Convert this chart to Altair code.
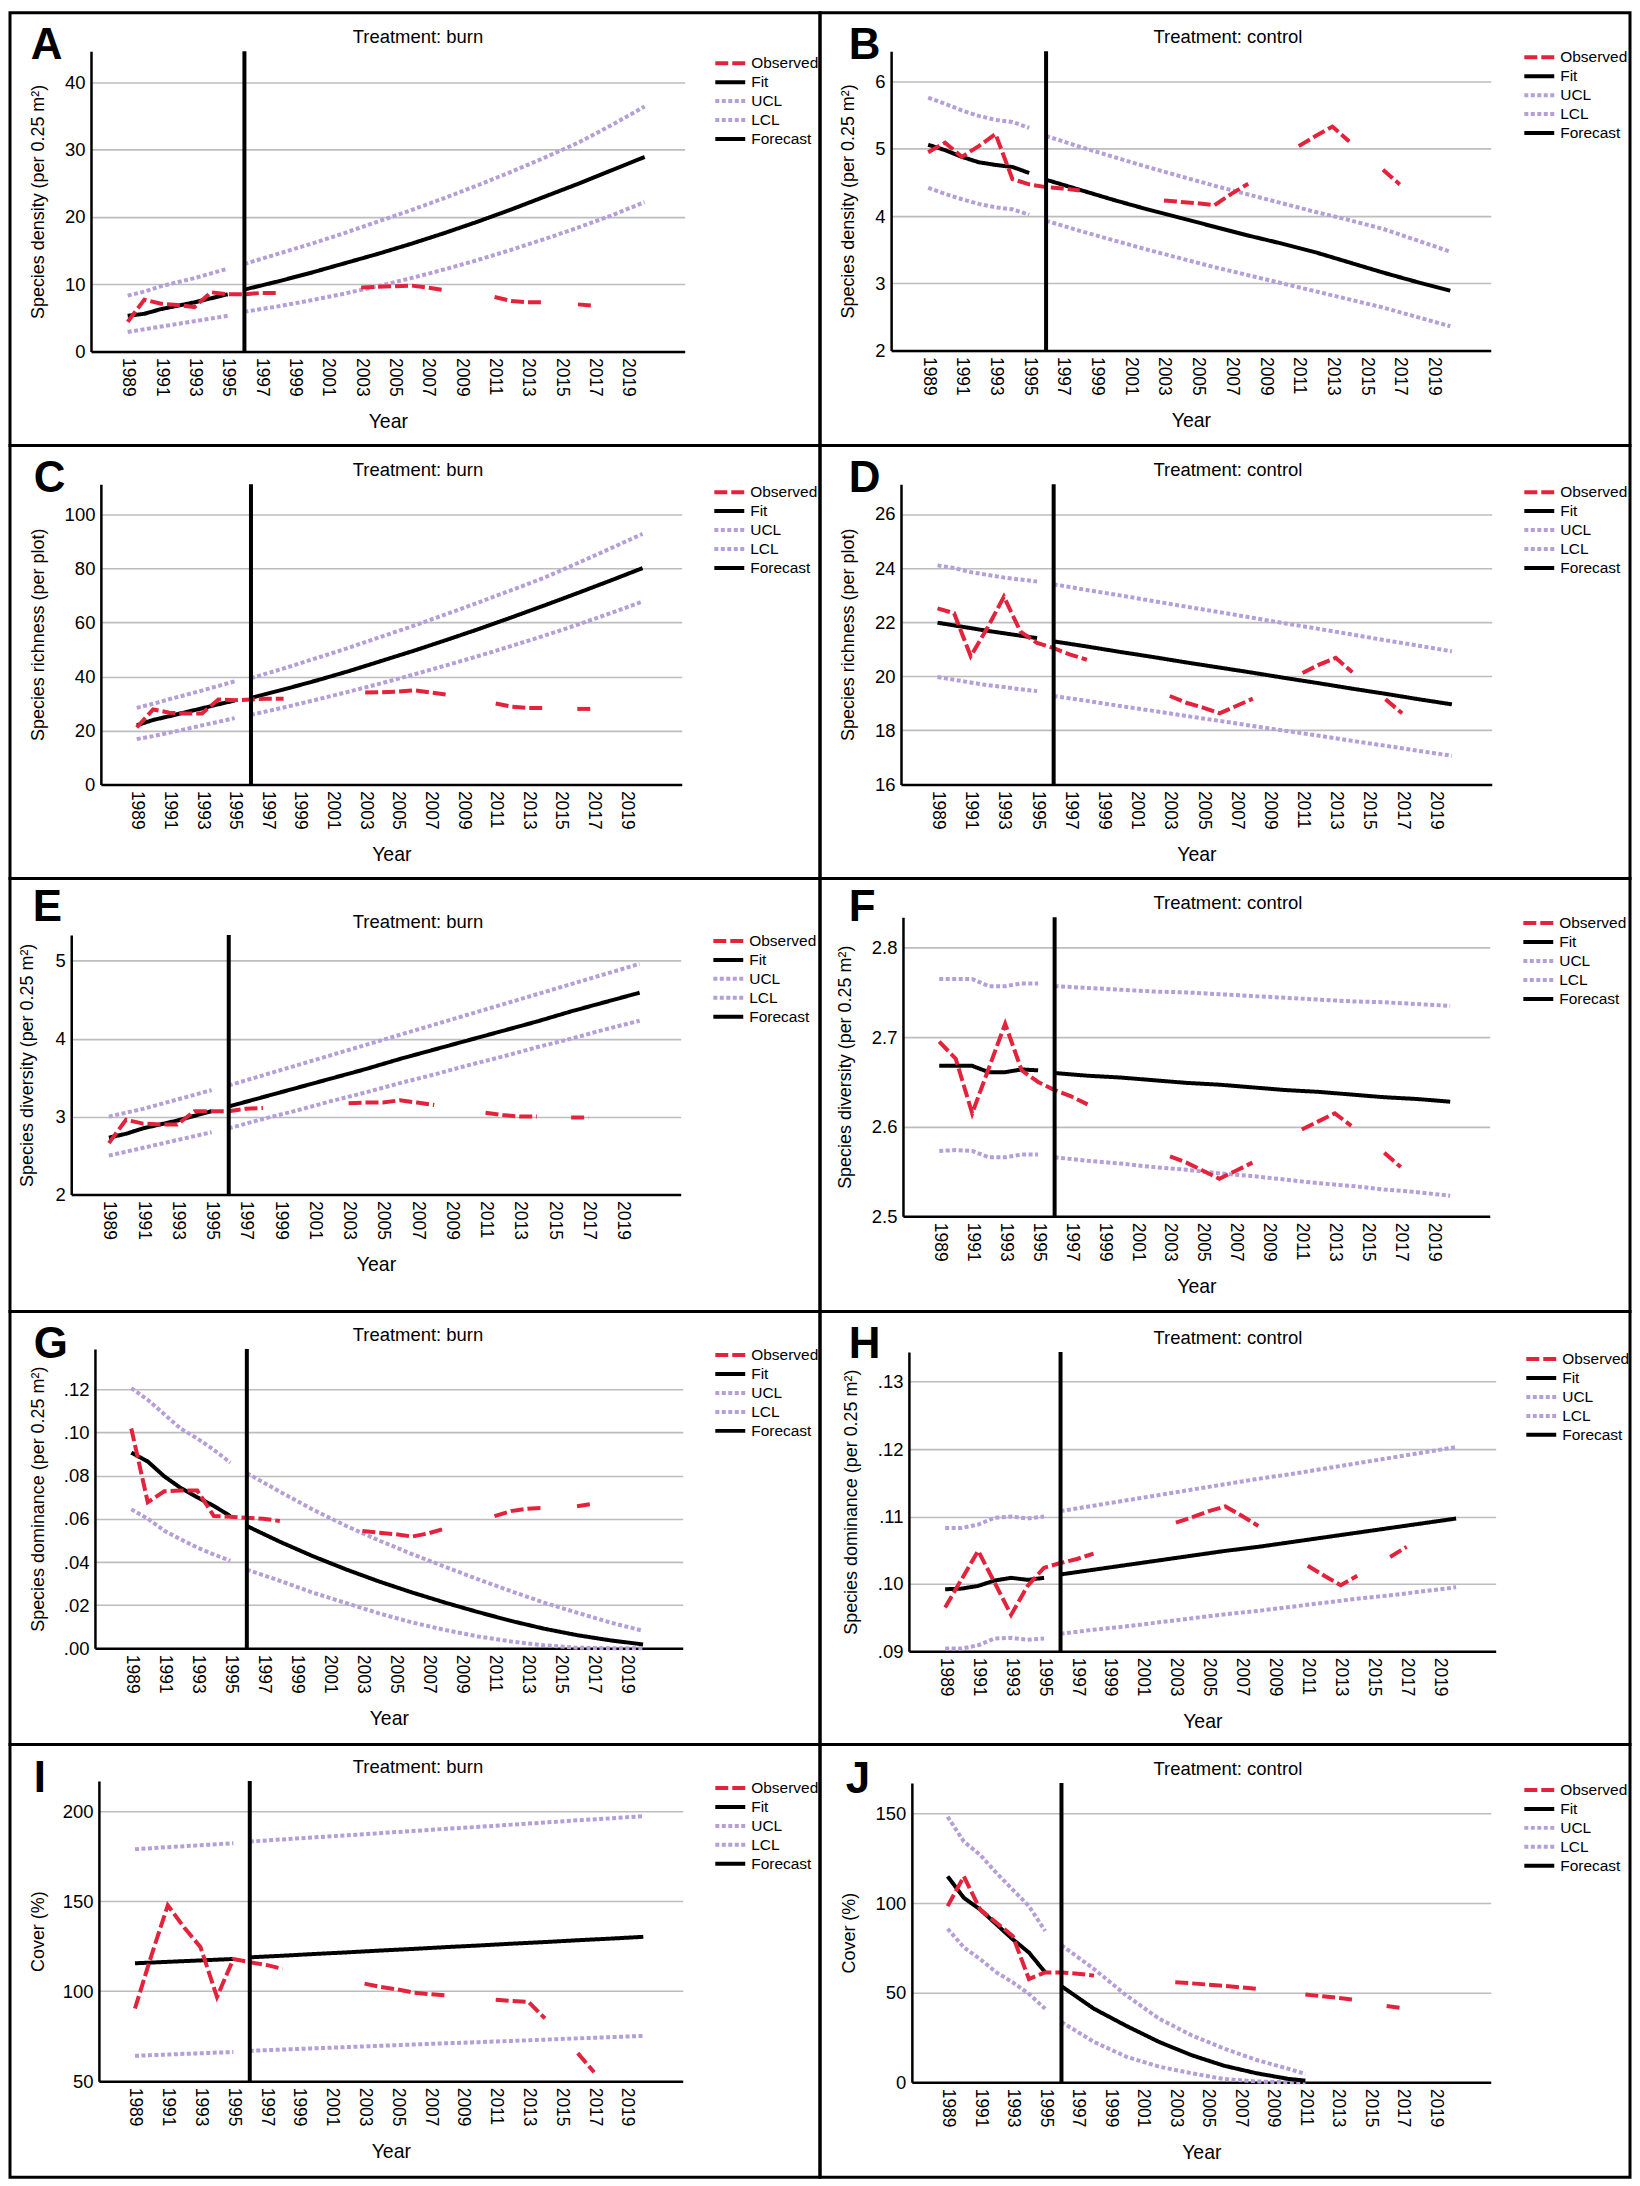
import altair as alt
import pandas as pd

FONT = "Liberation Sans, Arial, Helvetica, sans-serif"

SERIES = ["Observed", "Fit", "UCL", "LCL", "Forecast"]
SERIES_COLORS = ["#E3223C", "#000000", "#B59FD9", "#B59FD9", "#000000"]
SERIES_DASH = [[13, 4], [1, 0], [4, 2.5], [4, 2.5], [1, 0]]
SERIES_WIDTH = [4, 4, 4.5, 4.5, 4]

X_DOMAIN = [1986.8, 2022.4]
X_TICKS = [1989, 1991, 1993, 1995, 1997, 1999, 2001, 2003, 2005, 2007, 2009, 2011, 2013, 2015, 2017, 2019]
OBS_YEARS = [1989, 1990, 1991, 1992, 1993, 1994, 1995, 1996, 1997, 1998,
             2003, 2004, 2005, 2006, 2007, 2008,
             2011, 2012, 2013, 2014,
             2016, 2017]
FIT_YEARS = [1989, 1990, 1991, 1992, 1993, 1994, 1995]
FC_YEARS = [1996, 1998, 2000, 2002, 2004, 2006, 2008, 2010, 2012, 2014, 2016, 2018, 2020]
FC_YEARS_J = [1996, 1998, 2000, 2002, 2004, 2006, 2008, 2010, 2011]
SPLIT_YEAR = 1996

# ---- A: species density, burn
A_obs = [4.4, 7.7, 7.1, 6.9, 6.6, 8.8, 8.5, 8.5, 8.7, 8.7, 9.5, 9.6, 9.7, 9.8, 9.5, 9.1, 8.1, 7.5, 7.3, 7.3, 7.0, 6.8]
A_fit = [5.3, 5.6, 6.3, 6.8, 7.3, 7.9, 8.5]
A_ucl0 = [8.3, 8.9, 9.7, 10.3, 10.9, 11.6, 12.3]
A_lcl0 = [2.9, 3.3, 3.7, 4.1, 4.5, 4.9, 5.3]
A_fc = [9.2, 10.4, 11.7, 13.1, 14.5, 16.0, 17.6, 19.3, 21.1, 23.0, 24.9, 26.9, 28.9]
A_ucl1 = [13.0, 14.5, 16.0, 17.6, 19.3, 21.0, 22.8, 24.7, 26.7, 28.8, 31.0, 33.6, 36.4]
A_lcl1 = [5.9, 6.7, 7.6, 8.6, 9.7, 10.9, 12.2, 13.6, 15.1, 16.7, 18.4, 20.2, 22.2]

# ---- B: species density, control
B_obs = [4.95, 5.09, 4.88, 5.04, 5.22, 4.55, 4.47, 4.43, 4.41, 4.38, 4.23, 4.21, 4.19, 4.16, 4.33, 4.48, 5.04, 5.19, 5.33, 5.11, 4.69, 4.47]
B_fit = [5.06, 4.98, 4.88, 4.80, 4.76, 4.73, 4.64]
B_ucl0 = [5.76, 5.67, 5.57, 5.49, 5.43, 5.40, 5.31]
B_lcl0 = [4.42, 4.33, 4.25, 4.18, 4.13, 4.10, 4.02]
B_fc = [4.54, 4.39, 4.24, 4.10, 3.97, 3.84, 3.71, 3.59, 3.46, 3.31, 3.16, 3.02, 2.89]
B_ucl1 = [5.19, 5.03, 4.88, 4.73, 4.59, 4.45, 4.32, 4.19, 4.06, 3.94, 3.81, 3.64, 3.47]
B_lcl1 = [3.93, 3.78, 3.64, 3.50, 3.37, 3.24, 3.12, 3.00, 2.88, 2.76, 2.64, 2.50, 2.36]

# ---- C: species richness, burn
C_obs = [21.1, 27.8, 26.6, 26.3, 26.3, 31.5, 31.2, 31.5, 31.8, 31.8, 34.1, 34.2, 34.4, 34.9, 34.1, 33.3, 30.0, 28.8, 28.3, 28.3, 28.0, 28.0]
C_fit = [21.9, 23.9, 25.3, 26.8, 28.2, 29.7, 31.1]
C_ucl0 = [28.4, 29.9, 31.6, 33.2, 34.8, 36.5, 38.2]
C_lcl0 = [16.8, 17.9, 19.2, 20.5, 21.9, 23.2, 24.6]
C_fc = [32.1, 35.2, 38.5, 42.0, 45.8, 49.6, 53.6, 57.7, 62.0, 66.4, 70.9, 75.5, 80.2]
C_ucl1 = [39.4, 43.0, 46.8, 50.7, 54.8, 58.9, 63.2, 67.6, 72.1, 76.7, 82.0, 87.4, 92.9]
C_lcl1 = [25.8, 28.5, 31.4, 34.4, 37.5, 40.8, 44.2, 47.7, 51.4, 55.2, 59.2, 63.4, 67.8]

# ---- D: species richness, control
D_obs = [22.51, 22.33, 20.74, 21.78, 22.94, 21.65, 21.23, 21.04, 20.80, 20.61, 19.27, 19.02, 18.84, 18.63, 18.90, 19.17, 20.12, 20.43, 20.68, 20.15, 19.15, 18.63]
D_fit = [21.98, 21.88, 21.78, 21.68, 21.59, 21.50, 21.41]
D_ucl0 = [24.10, 24.00, 23.85, 23.75, 23.65, 23.58, 23.50]
D_lcl0 = [19.97, 19.87, 19.77, 19.67, 19.60, 19.52, 19.45]
D_fc = [21.29, 21.10, 20.90, 20.71, 20.51, 20.32, 20.13, 19.93, 19.74, 19.54, 19.35, 19.15, 18.96]
D_ucl1 = [23.40, 23.19, 22.99, 22.78, 22.57, 22.37, 22.16, 21.95, 21.75, 21.54, 21.33, 21.13, 20.92]
D_lcl1 = [19.27, 19.09, 18.90, 18.72, 18.53, 18.35, 18.16, 17.98, 17.80, 17.61, 17.43, 17.24, 17.06]

# ---- E: species diversity, burn
E_obs = [2.66, 2.96, 2.91, 2.90, 2.90, 3.07, 3.07, 3.07, 3.10, 3.11, 3.17, 3.18, 3.18, 3.21, 3.18, 3.15, 3.05, 3.02, 3.00, 3.00, 2.99, 2.99]
E_fit = [2.73, 2.78, 2.85, 2.90, 2.95, 3.01, 3.07]
E_ucl0 = [3.00, 3.05, 3.10, 3.16, 3.22, 3.28, 3.34]
E_lcl0 = [2.50, 2.55, 2.60, 2.65, 2.70, 2.75, 2.80]
E_fc = [3.13, 3.25, 3.37, 3.49, 3.61, 3.74, 3.86, 3.98, 4.10, 4.22, 4.35, 4.47, 4.59]
E_ucl1 = [3.40, 3.53, 3.66, 3.79, 3.92, 4.05, 4.18, 4.31, 4.44, 4.57, 4.70, 4.83, 4.96]
E_lcl1 = [2.85, 2.97, 3.08, 3.20, 3.31, 3.43, 3.54, 3.66, 3.77, 3.89, 4.00, 4.12, 4.23]

# ---- F: species diversity, control
F_obs = [2.695, 2.676, 2.615, 2.665, 2.715, 2.663, 2.650, 2.641, 2.634, 2.625, 2.567, 2.560, 2.551, 2.542, 2.551, 2.560, 2.597, 2.606, 2.615, 2.601, 2.571, 2.555]
F_fit = [2.668, 2.668, 2.668, 2.661, 2.661, 2.664, 2.663]
F_ucl0 = [2.765, 2.765, 2.765, 2.757, 2.757, 2.760, 2.760]
F_lcl0 = [2.573, 2.574, 2.573, 2.566, 2.566, 2.569, 2.569]
F_fc = [2.660, 2.657, 2.655, 2.652, 2.649, 2.647, 2.644, 2.641, 2.639, 2.636, 2.633, 2.631, 2.628]
F_ucl1 = [2.757, 2.755, 2.753, 2.751, 2.750, 2.748, 2.746, 2.744, 2.742, 2.740, 2.739, 2.737, 2.735]
F_lcl1 = [2.566, 2.562, 2.559, 2.555, 2.552, 2.548, 2.545, 2.541, 2.537, 2.534, 2.530, 2.527, 2.523]

# ---- G: species dominance, burn
G_obs = [0.1019, 0.0677, 0.0728, 0.0731, 0.0731, 0.0613, 0.0610, 0.0605, 0.0601, 0.0590, 0.0544, 0.0536, 0.0529, 0.0518, 0.0533, 0.0555, 0.0613, 0.0636, 0.0647, 0.0651, 0.0659, 0.0670]
G_fit = [0.0907, 0.0866, 0.0797, 0.0743, 0.0700, 0.0660, 0.0613]
G_ucl0 = [0.1206, 0.1152, 0.1085, 0.1018, 0.0973, 0.0920, 0.0861]
G_lcl0 = [0.0644, 0.0601, 0.0545, 0.0505, 0.0467, 0.0435, 0.0406]
G_fc = [0.0567, 0.0494, 0.0427, 0.0366, 0.0310, 0.0259, 0.0212, 0.0168, 0.0127, 0.0091, 0.0061, 0.0037, 0.0018]
G_ucl1 = [0.0812, 0.0726, 0.0643, 0.0568, 0.0500, 0.0437, 0.0378, 0.0320, 0.0265, 0.0212, 0.0165, 0.0120, 0.0081]
G_lcl1 = [0.0365, 0.0313, 0.0258, 0.0210, 0.0162, 0.0120, 0.0085, 0.0055, 0.0032, 0.0014, 0.0003, 0.0, 0.0]

# ---- H: species dominance, control
H_obs = [0.0965, 0.1007, 0.1049, 0.1002, 0.0954, 0.0997, 0.1024, 0.1031, 0.1037, 0.1045, 0.1091, 0.1099, 0.1108, 0.1115, 0.1101, 0.1086, 0.1027, 0.1012, 0.0998, 0.1012, 0.1040, 0.1055]
H_fit = [0.0992, 0.0993, 0.0997, 0.1005, 0.1009, 0.1006, 0.1009]
H_ucl0 = [0.1083, 0.1083, 0.1088, 0.1098, 0.1100, 0.1097, 0.1100]
H_lcl0 = [0.0904, 0.0904, 0.0909, 0.0919, 0.0920, 0.0917, 0.0919]
H_fc = [0.1014, 0.1021, 0.1028, 0.1035, 0.1042, 0.1049, 0.1055, 0.1062, 0.1069, 0.1076, 0.1083, 0.1090, 0.1097]
H_ucl1 = [0.1108, 0.1116, 0.1124, 0.1132, 0.1140, 0.1148, 0.1156, 0.1163, 0.1171, 0.1179, 0.1187, 0.1195, 0.1203]
H_lcl1 = [0.0926, 0.0932, 0.0937, 0.0943, 0.0949, 0.0955, 0.0960, 0.0966, 0.0972, 0.0978, 0.0983, 0.0989, 0.0995]

# ---- I: cover, burn
I_obs = [90.4, 119.8, 147.7, 135.4, 124.4, 96.8, 117.9, 116.1, 114.6, 112.4, 104.2, 102.3, 101.0, 99.2, 98.3, 97.7, 95.3, 94.6, 94.1, 84.9, 65.6, 55.0]
I_fit = [115.5, 115.9, 116.3, 116.7, 117.1, 117.5, 117.9]
I_ucl0 = [178.9, 179.4, 180.0, 180.5, 181.1, 181.6, 182.2]
I_lcl0 = [64.1, 64.5, 64.8, 65.2, 65.5, 65.9, 66.2]
I_fc = [118.8, 119.7, 120.7, 121.6, 122.6, 123.5, 124.5, 125.4, 126.4, 127.3, 128.3, 129.2, 130.2]
I_ucl1 = [183.1, 184.3, 185.5, 186.6, 187.8, 189.0, 190.2, 191.3, 192.5, 193.7, 194.9, 196.0, 197.2]
I_lcl1 = [66.9, 67.6, 68.3, 69.0, 69.7, 70.4, 71.1, 71.7, 72.4, 73.1, 73.8, 74.5, 75.2]

# ---- J: cover, control
J_obs = [98.3, 114.9, 96.4, 89.0, 81.7, 57.6, 61.3, 61.3, 60.6, 59.5, 55.8, 55.2, 54.5, 53.8, 53.0, 52.1, 49.0, 48.0, 47.1, 46.0, 42.5, 41.4]
J_fit = [114.9, 102.9, 96.4, 88.1, 79.8, 72.4, 61.3]
J_ucl0 = [148.2, 134.3, 126.9, 116.8, 107.5, 98.3, 84.4]
J_lcl0 = [85.7, 75.2, 68.7, 61.3, 55.8, 49.3, 41.0]
J_fc = [53.6, 41.0, 31.4, 22.5, 15.1, 9.2, 5.0, 1.8, 0.9]
J_ucl1 = [76.5, 63.2, 48.4, 35.5, 26.2, 18.8, 12.4, 7.4, 4.6]
J_lcl1 = [33.6, 22.5, 14.2, 8.7, 5.0, 1.8, 0.4, 0.0, 0.0]

DENS = "Species density (per 0.25 m\u00b2)"
RICH = "Species richness (per plot)"
DIVE = "Species diversity (per 0.25 m\u00b2)"
DOMI = "Species dominance (per 0.25 m\u00b2)"
COVR = "Cover (%)"
DOM_LABELS = "replace(format(datum.value, '.2f'), '0.', '.')"

PANELS = [
    dict(letter="A", treat="burn", ytitle=DENS, ydom=[0, 44.6], yticks=[0, 10, 20, 30, 40], fmt="d",
         obs=A_obs, fit=A_fit, ucl0=A_ucl0, lcl0=A_lcl0, fc=A_fc, ucl1=A_ucl1, lcl1=A_lcl1, fcy=FC_YEARS),
    dict(letter="B", treat="control", ytitle=DENS, ydom=[2, 6.45], yticks=[2, 3, 4, 5, 6], fmt="d",
         obs=B_obs, fit=B_fit, ucl0=B_ucl0, lcl0=B_lcl0, fc=B_fc, ucl1=B_ucl1, lcl1=B_lcl1, fcy=FC_YEARS),
    dict(letter="C", treat="burn", ytitle=RICH, ydom=[0, 111.3], yticks=[0, 20, 40, 60, 80, 100], fmt="d",
         obs=C_obs, fit=C_fit, ucl0=C_ucl0, lcl0=C_lcl0, fc=C_fc, ucl1=C_ucl1, lcl1=C_lcl1, fcy=FC_YEARS),
    dict(letter="D", treat="control", ytitle=RICH, ydom=[16, 27.1], yticks=[16, 18, 20, 22, 24, 26], fmt="d",
         obs=D_obs, fit=D_fit, ucl0=D_ucl0, lcl0=D_lcl0, fc=D_fc, ucl1=D_ucl1, lcl1=D_lcl1, fcy=FC_YEARS),
    dict(letter="E", treat="burn", ytitle=DIVE, ydom=[2, 5.33], yticks=[2, 3, 4, 5], fmt="d",
         obs=E_obs, fit=E_fit, ucl0=E_ucl0, lcl0=E_lcl0, fc=E_fc, ucl1=E_ucl1, lcl1=E_lcl1, fcy=FC_YEARS),
    dict(letter="F", treat="control", ytitle=DIVE, ydom=[2.5, 2.834], yticks=[2.5, 2.6, 2.7, 2.8], fmt=".1f",
         obs=F_obs, fit=F_fit, ucl0=F_ucl0, lcl0=F_lcl0, fc=F_fc, ucl1=F_ucl1, lcl1=F_lcl1, fcy=FC_YEARS),
    dict(letter="G", treat="burn", ytitle=DOMI, ydom=[0, 0.1387], yticks=[0, 0.02, 0.04, 0.06, 0.08, 0.10, 0.12], fmt=None,
         obs=G_obs, fit=G_fit, ucl0=G_ucl0, lcl0=G_lcl0, fc=G_fc, ucl1=G_ucl1, lcl1=G_lcl1, fcy=FC_YEARS),
    dict(letter="H", treat="control", ytitle=DOMI, ydom=[0.09, 0.1344], yticks=[0.09, 0.10, 0.11, 0.12, 0.13], fmt=None,
         obs=H_obs, fit=H_fit, ucl0=H_ucl0, lcl0=H_lcl0, fc=H_fc, ucl1=H_ucl1, lcl1=H_lcl1, fcy=FC_YEARS),
    dict(letter="I", treat="burn", ytitle=COVR, ydom=[50, 216.7], yticks=[50, 100, 150, 200], fmt="d",
         obs=I_obs, fit=I_fit, ucl0=I_ucl0, lcl0=I_lcl0, fc=I_fc, ucl1=I_ucl1, lcl1=I_lcl1, fcy=FC_YEARS),
    dict(letter="J", treat="control", ytitle=COVR, ydom=[0, 167], yticks=[0, 50, 100, 150], fmt="d",
         obs=J_obs, fit=J_fit, ucl0=J_ucl0, lcl0=J_lcl0, fc=J_fc, ucl1=J_ucl1, lcl1=J_lcl1, fcy=FC_YEARS_J),
]

# ---- layout (pixel positions measured inside each 820 x 437 reference panel)
LAYOUT = {
    "A": dict(plot=(82, 39, 683, 342), letter=(21, 47), title_y=31, ytx=29, leg=(712, 51)),
    "B": dict(plot=(72, 39, 679, 341), letter=(29, 47), title_y=31, ytx=29, leg=(711, 45)),
    "C": dict(plot=(92, 39, 680, 342), letter=(24, 47), title_y=31, ytx=29, leg=(711, 47)),
    "D": dict(plot=(82, 39, 680, 342), letter=(29, 47), title_y=31, ytx=29, leg=(711, 47)),
    "E": dict(plot=(62, 57, 679, 319), letter=(23, 43), title_y=50, ytx=18, leg=(710, 63)),
    "F": dict(plot=(84, 39, 678, 341), letter=(29, 43), title_y=31, ytx=26, leg=(710, 45)),
    "G": dict(plot=(86, 38, 681, 340), letter=(24, 47), title_y=30, ytx=29, leg=(712, 44)),
    "H": dict(plot=(90, 41, 684, 343), letter=(29, 47), title_y=33, ytx=32, leg=(713, 48)),
    "I": dict(plot=(90, 37, 681, 340), letter=(24, 48), title_y=29, ytx=29, leg=(712, 44)),
    "J": dict(plot=(93, 39, 679, 341), letter=(26, 49), title_y=31, ytx=30, leg=(711, 46)),
}
PITCH_W, PITCH_H = 812, 434
SX, SY = PITCH_W / 820, PITCH_H / 437
L0, T0, W, H = 84, 39, 590, 300
TITLE_CX = 413
ROW_H = 19


def segs(years, tag, gap):
    out, k, prev = [], 0, None
    for y in years:
        if prev is not None and y - prev > gap:
            k += 1
        out.append(f"{tag}{k}")
        prev = y
    return out


def table(p):
    rows = []

    def add(series, years, vals, tag, gap=100):
        for y, v, s in zip(years, vals, segs(years, tag, gap)):
            rows.append({"year": y, "value": v, "series": series, "seg": s})

    add("UCL", FIT_YEARS, p["ucl0"], "u0_")
    add("UCL", p["fcy"], p["ucl1"], "u1_")
    add("LCL", FIT_YEARS, p["lcl0"], "l0_")
    add("LCL", p["fcy"], p["lcl1"], "l1_")
    add("Fit", FIT_YEARS, p["fit"], "f_")
    add("Forecast", p["fcy"], p["fc"], "fc_")
    add("Observed", OBS_YEARS, p["obs"], "o_", gap=1)
    return pd.DataFrame(rows)


def panel(p):
    g = LAYOUT[p["letter"]]
    left, top, right, bottom = g["plot"]
    xl, xr = left * SX - L0, right * SX - L0
    yt, yb = top * SY - T0, bottom * SY - T0

    xs = alt.Scale(domain=X_DOMAIN, range=[xl, xr], nice=False, zero=False)
    ys = alt.Scale(domain=p["ydom"], range=[yb, yt], nice=False, zero=False)

    xaxis = alt.Axis(values=X_TICKS, format="d", labelAngle=90, ticks=False, grid=False,
                     domainColor="black", domainWidth=2.5, labelFontSize=17.5, labelFont=FONT,
                     labelPadding=6, labelColor="black", labelFlush=False, labelOverlap=False,
                     title="Year", titleFontSize=19.5, titleFontWeight="normal", titleColor="black",
                     titleFont=FONT, titleX=(xl + xr) / 2, titleY=76, titleAlign="center",
                     titleBaseline="alphabetic", offset=yb - H)
    yargs = dict(values=p["yticks"], ticks=False, grid=True, gridColor="#BDBDBD", gridWidth=1.6,
                 domainColor="black", domainWidth=2.5, labelFontSize=18.5, labelFont=FONT,
                 labelPadding=6, labelColor="black", labelFlush=False, labelOverlap=False,
                 title=p["ytitle"], titleFontSize=18, titleFontWeight="normal", titleColor="black",
                 titleFont=FONT, titleX=g["ytx"] * SX - L0 - xl, titleY=(yt + yb) / 2, titleAngle=270,
                 titleAlign="center", titleBaseline="middle", offset=-xl)
    if p["fmt"] is None:
        yargs["labelExpr"] = DOM_LABELS
    else:
        yargs["format"] = p["fmt"]
    yaxis = alt.Axis(**yargs)

    legend = alt.Legend(title=None, orient="none",
                        legendX=g["leg"][0] * SX - L0,
                        legendY=g["leg"][1] * SY - T0 - ROW_H / 2,
                        symbolType="stroke", symbolSize=900, symbolStrokeWidth=4.5,
                        clipHeight=ROW_H, rowPadding=0, padding=0,
                        labelFontSize=15.5, labelOffset=4, labelColor="black", labelFont=FONT)

    df = table(p)
    lines = alt.Chart(df).mark_line(strokeCap="butt", strokeJoin="miter").encode(
        x=alt.X("year:Q", scale=xs, axis=xaxis),
        y=alt.Y("value:Q", scale=ys, axis=yaxis),
        color=alt.Color("series:N", scale=alt.Scale(domain=SERIES, range=SERIES_COLORS), legend=legend),
        strokeDash=alt.StrokeDash("series:N", scale=alt.Scale(domain=SERIES, range=SERIES_DASH), legend=legend),
        strokeWidth=alt.StrokeWidth("series:N", scale=alt.Scale(domain=SERIES, range=SERIES_WIDTH), legend=None),
        detail="seg:N",
    )

    split = pd.DataFrame({"year": [SPLIT_YEAR], "value": [p["ydom"][1]], "lo": [p["ydom"][0]]})
    rule = alt.Chart(split).mark_rule(color="black", strokeWidth=4).encode(
        x=alt.X("year:Q", scale=xs, axis=xaxis),
        y=alt.Y("value:Q", scale=ys, axis=yaxis),
        y2="lo:Q",
    )

    one = pd.DataFrame({"k": [0]})
    border = alt.Chart(one).mark_rect(fillOpacity=0, stroke="black", strokeWidth=3).encode(
        x=alt.value(-L0), x2=alt.value(PITCH_W - L0),
        y=alt.value(-T0), y2=alt.value(PITCH_H - T0),
    )
    letter = alt.Chart(one).mark_text(align="left", baseline="alphabetic", fontSize=44,
                                      fontWeight="bold", font=FONT, color="black").encode(
        x=alt.value(g["letter"][0] * SX - L0), y=alt.value(g["letter"][1] * SY - T0),
        text=alt.value(p["letter"]),
    )
    title = alt.Chart(one).mark_text(align="center", baseline="alphabetic", fontSize=18.5,
                                     font=FONT, color="black").encode(
        x=alt.value(TITLE_CX * SX - L0), y=alt.value(g["title_y"] * SY - T0),
        text=alt.value("Treatment: " + p["treat"]),
    )
    return alt.layer(lines, rule, border, letter, title).properties(width=W, height=H)


chart = alt.concat(
    *[panel(p) for p in PANELS],
    columns=2,
    spacing=alt.RowColnumber(row=PITCH_H - H, column=PITCH_W - W),
    bounds="flush",
).resolve_scale(
    x="independent", y="independent", color="independent",
    strokeDash="independent", strokeWidth="independent",
).resolve_legend(
    color="independent", strokeDash="independent",
).properties(
    padding=0, background="white",
).configure(
    font=FONT,
).configure_view(
    stroke=None,
)

chart.save("out.html", embed_options={"renderer": "svg", "actions": False})
